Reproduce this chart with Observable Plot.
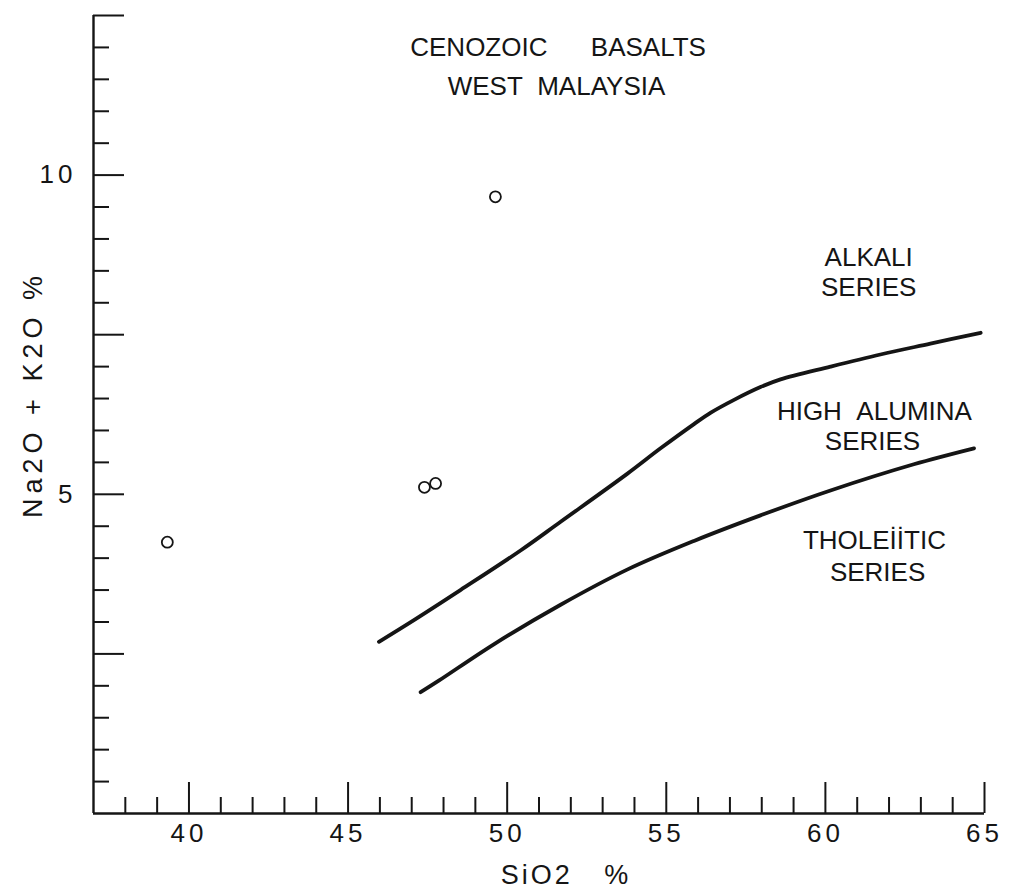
<!DOCTYPE html>
<html>
<head>
<meta charset="utf-8">
<script src="https://cdn.jsdelivr.net/npm/d3@7"></script>
<script src="https://cdn.jsdelivr.net/npm/@observablehq/plot@0.6"></script>
<style>
  body { margin: 0; background: #fff; }
  #chart svg { display: block; }
</style>
</head>
<body>
<div id="chart"></div>
<script>
// Sample points: SiO2 % vs Na2O + K2O %
const sio2 = [39.32, 47.40, 47.75, 49.63];
const alkalis = [4.25, 5.11, 5.17, 9.66];

// Boundary: Alkali / High-alumina series
const upperX = [45.97, 47.07, 48.53, 50.42, 51.68, 53.77, 54.82, 55.87, 56.40, 57.13, 57.96, 58.59, 60.16, 61.73, 63.30, 64.88];
const upperY = [2.69, 3.03, 3.50, 4.12, 4.57, 5.32, 5.72, 6.10, 6.28, 6.48, 6.68, 6.80, 7.00, 7.19, 7.36, 7.53];

// Boundary: High-alumina / Tholeiitic series
const lowerX = [47.28, 47.85, 49.58, 51.68, 53.77, 55.87, 57.96, 60.16, 62.78, 64.67];
const lowerY = [1.90, 2.08, 2.65, 3.27, 3.82, 4.27, 4.67, 5.06, 5.47, 5.72];

// Axis ticks
const xMajorTicks = [40, 45, 50, 55, 60, 65];
const xMinorTicks = d3.range(38, 65).filter(d => d % 5 !== 0);
const yMajorTicks = [2.5, 5, 7.5, 10, 12.5];
const yMinorTicks = d3.range(1, 25).map(d => d / 2).filter(d => d % 2.5 !== 0);
const yLabelTicks = [5, 10];

// Annotations (in data coordinates)
const annText = ["CENOZOIC\u00a0\u00a0\u00a0\u00a0\u00a0\u00a0BASALTS", "WEST\u00a0\u00a0MALAYSIA", "ALKALI", "SERIES", "HIGH\u00a0\u00a0ALUMINA", "SERIES", "THOLEİİTIC", "SERIES"];
const annX = [51.60, 51.55, 61.36, 61.36, 61.54, 61.48, 61.54, 61.64];
const annY = [11.99, 11.38, 8.71, 8.24, 6.30, 5.83, 4.28, 3.78];

const xTitle = "SiO2\u00a0\u00a0\u00a0%";
const yTitle = "Na2O\u00a0+\u00a0K2O\u00a0%";

const points = sio2.map((x, i) => ({x, y: alkalis[i]}));
const upper = upperX.map((x, i) => ({x, y: upperY[i]}));
const lower = lowerX.map((x, i) => ({x, y: lowerY[i]}));
const ann = annText.map((t, i) => ({t, x: annX[i], y: annY[i]}));

const ink = "#151515";
const font = "Liberation Sans, Arial, sans-serif";

const chart = Plot.plot({
  width: 1009,
  height: 891,
  marginLeft: 93,
  marginRight: 25,
  marginTop: 15,
  marginBottom: 78,
  style: {fontFamily: font, fontSize: "24px", color: ink, background: "#fff"},
  x: {domain: [37, 65], axis: null},
  y: {domain: [0, 12.5], axis: null},
  marks: [
    // axis lines
    Plot.ruleY([0], {stroke: ink, strokeWidth: 2.4}),
    Plot.ruleX([37], {stroke: ink, strokeWidth: 2.4}),
    // ticks pointing inward
    Plot.axisX(xMinorTicks, {anchor: "bottom", tickSize: -16, tickFormat: () => "", strokeWidth: 2, stroke: ink, label: null}),
    Plot.axisX(xMajorTicks, {anchor: "bottom", tickSize: -31, tickFormat: () => "", strokeWidth: 2, stroke: ink, label: null}),
    Plot.axisY(yMinorTicks, {anchor: "left", tickSize: -16, tickFormat: () => "", strokeWidth: 2, stroke: ink, label: null}),
    Plot.axisY(yMajorTicks, {anchor: "left", tickSize: -31, tickFormat: () => "", strokeWidth: 2, stroke: ink, label: null}),
    // tick labels
    Plot.axisX(xMajorTicks, {anchor: "bottom", tickSize: 0, tickPadding: 10, tickFormat: d => String(d), fontSize: 26, fill: ink, label: null, fontFamily: font}),
    Plot.axisY(yLabelTicks, {anchor: "left", tickSize: 0, tickPadding: 17, tickFormat: d => String(d), fontSize: 26, fill: ink, label: null, fontFamily: font}),
    // axis titles
    Plot.text([xTitle], {frameAnchor: "bottom", textAnchor: "middle", dx: 27, dy: 70, fontSize: 27, fill: ink, fontFamily: font}),
    Plot.text([yTitle], {frameAnchor: "left", textAnchor: "middle", dx: -60, dy: -20, rotate: -90, fontSize: 27, fill: ink, fontFamily: font}),
    // boundary curves
    Plot.line(upper, {x: "x", y: "y", curve: "catmull-rom", stroke: ink, strokeWidth: 3.8}),
    Plot.line(lower, {x: "x", y: "y", curve: "catmull-rom", stroke: ink, strokeWidth: 3.8}),
    // samples
    Plot.dot(points, {x: "x", y: "y", r: 5.5, stroke: ink, strokeWidth: 1.8, fill: "none"}),
    // annotations
    Plot.text(ann, {x: "x", y: "y", text: "t", fontSize: 26, fill: ink, fontFamily: font})
  ]
});

// Letter spacing for lettering-style labels
d3.select(chart).selectAll("text").each(function () {
  const t = this.textContent;
  if (t === yTitle) this.style.letterSpacing = "5px";
  else if (t === xTitle) this.style.letterSpacing = "3px";
  else if (/^\d+$/.test(t)) { this.style.letterSpacing = "4px"; this.style.fontSize = "26px"; }
});

document.getElementById("chart").appendChild(chart);
</script>
</body>
</html>
